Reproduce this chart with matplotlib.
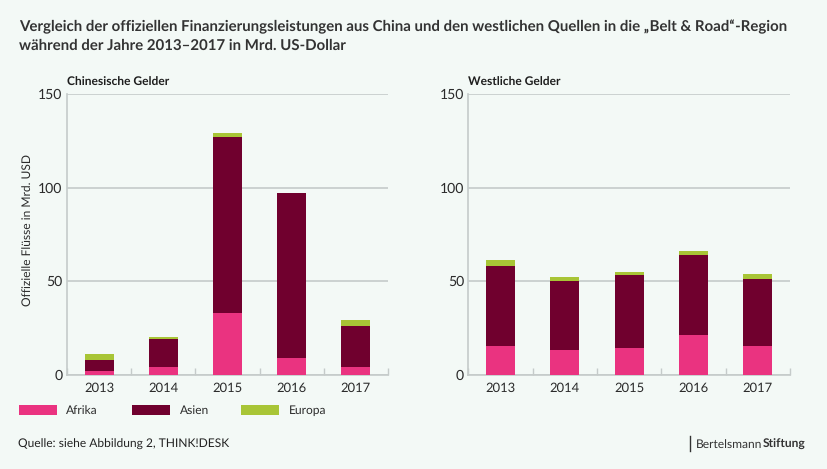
"""Stacked bars: official financing flows from China and western sources, 2013-2017."""

import matplotlib
matplotlib.use("Agg")
import matplotlib.pyplot as plt
import numpy as np

plt.rcParams["font.family"] = ["Lato", "Open Sans", "DejaVu Sans"]
plt.rcParams["text.hinting"] = "no_hinting"
plt.rcParams["text.hinting_factor"] = 1

# Data
years = ["2013", "2014", "2015", "2016", "2017"]
china_afrika = [2, 4, 33, 9, 4]
china_asien = [6, 15, 94, 88, 22]
china_europa = [3, 1, 2, 0, 3]
west_afrika = [15, 13, 14, 21, 15]
west_asien = [43, 37, 39, 43, 36]
west_europa = [3, 2, 2, 2, 3]
y_ticks = [0, 50, 100, 150]
series_names = ["Afrika", "Asien", "Europa"]

# Colours
BG = "#f3f9f6"
PINK = "#ea3380"
DARK = "#70002e"
GREEN = "#a8c536"
GRID = "#c5cbca"
TEXT = "#2b2b2b"

W, H = 828, 469


def draw_panel(ax, afrika, asien, europa, title):
    x = np.arange(len(years))
    afrika = np.array(afrika)
    asien = np.array(asien)
    europa = np.array(europa)
    width = 0.45
    ax.bar(x, afrika, width, color=PINK, zorder=3)
    ax.bar(x, asien, width, bottom=afrika, color=DARK, zorder=3)
    ax.bar(x, europa, width, bottom=afrika + asien, color=GREEN, zorder=3)

    ax.set_xlim(-0.5, len(years) - 0.5)
    ax.set_ylim(0, 150)
    ax.set_facecolor(BG)
    ax.set_yticks(y_ticks)
    ax.grid(axis="y", color=GRID, linewidth=1.2, zorder=1)
    ax.set_axisbelow(True)

    # year labels sit centred, the tick marks go between the categories
    ax.set_xticks(x)
    ax.set_xticklabels(years, fontsize=9, color=TEXT)
    ax.tick_params(axis="x", which="major", length=0, pad=5.5)
    ax.set_xticks(np.arange(len(years) + 1) - 0.5, minor=True)
    ax.tick_params(axis="x", which="minor", direction="in", length=5,
                   width=1, color=GRID)
    ax.tick_params(axis="y", length=0, pad=3.2, labelsize=9.8, labelcolor=TEXT)

    for side in ["top", "right"]:
        ax.spines[side].set_visible(False)
    for side in ["left", "bottom"]:
        ax.spines[side].set_color(GRID)
        ax.spines[side].set_linewidth(1.2)

    ax.text(0, 1.02, title, transform=ax.transAxes, fontsize=8.4,
            fontweight="bold", color="#1e1e1e", va="bottom", ha="left")


fig = plt.figure(figsize=(W / 100, H / 100), dpi=100, facecolor=BG)


def add_axes_px(left, right, top, bottom):
    return fig.add_axes([left / W, 1 - bottom / H, (right - left) / W, (bottom - top) / H])


ax_china = add_axes_px(67, 388, 94, 374.5)
ax_west = add_axes_px(468.5, 790, 94, 374.5)

draw_panel(ax_china, china_afrika, china_asien, china_europa, "Chinesische Gelder")
draw_panel(ax_west, west_afrika, west_asien, west_europa, "Westliche Gelder")

ax_china.set_ylabel("Offizielle Flüsse in Mrd. USD", fontsize=8.8, color=TEXT)
ax_china.yaxis.set_label_coords((33 - 67) / (388 - 67), (374.5 - 230.5) / (374.5 - 94))

# Title
fig.text(19 / W, 1 - 26.5 / H,
         "Vergleich der offiziellen Finanzierungsleistungen aus China und den westlichen Quellen in die „Belt & Road“-Region",
         fontsize=10.74, fontweight="bold", color="#333333", va="center", ha="left")
fig.text(19 / W, 1 - 45.5 / H, "während der Jahre 2013–2017 in Mrd. US-Dollar",
         fontsize=10.74, fontweight="bold", color="#333333", va="center", ha="left")

# Legend, drawn by hand so the swatches land where they do in the original
legend_items = [(19, 57, 66, PINK), (132, 170, 180, DARK), (241, 279, 289, GREEN)]
for name, (x0, x1, tx, colour) in zip(series_names, legend_items):
    fig.patches.append(plt.Rectangle((x0 / W, 1 - 415 / H), (x1 - x0) / W, 10 / H,
                                     transform=fig.transFigure, facecolor=colour,
                                     edgecolor="none"))
    fig.text(tx / W, 1 - 410.5 / H, name, fontsize=8.8, color=TEXT, va="center", ha="left")

# Footer
fig.text(18 / W, 1 - 444 / H, "Quelle: siehe Abbildung 2, THINK!DESK",
         fontsize=8.85, color="#222222", va="center", ha="left")
fig.add_artist(plt.Line2D([690 / W, 690 / W], [1 - 451 / H, 1 - 436 / H],
                          color="#333333", linewidth=1))
brand = fig.text(696 / W, 1 - 447.5 / H, "Bertelsmann", fontsize=8.7,
                 color="#333333", va="baseline", ha="left")
fig.canvas.draw()
brand_box = brand.get_window_extent()
fig.text(brand_box.x1 / W, 1 - 447.5 / H, "Stiftung", fontsize=8.9, fontweight="bold",
         color="#333333", va="baseline", ha="left")

fig.savefig("out.png", dpi=100, facecolor=BG)
